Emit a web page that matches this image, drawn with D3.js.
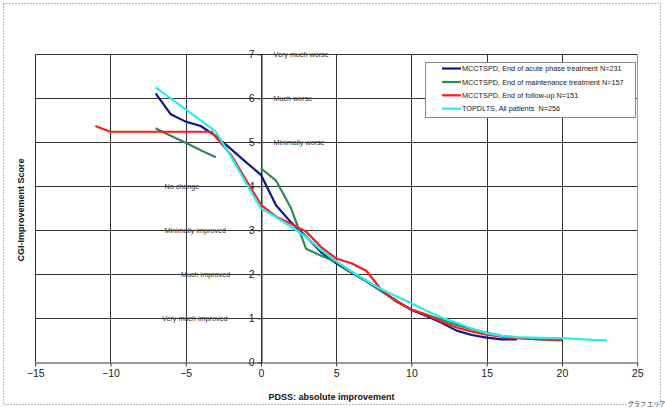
<!DOCTYPE html>
<html><head><meta charset="utf-8">
<script src="https://cdn.jsdelivr.net/npm/d3@7"></script>
<style>
body{margin:0;background:#fff;}
svg{display:block;font-family:"Liberation Sans",Arial,sans-serif;}
</style></head>
<body><svg id="c" width="665" height="412"></svg>
<script>
// ---- data ----
const xTicks = [-15,-10,-5,0,5,10,15,20,25];
const yTicks = [0,1,2,3,4,5,6,7];
const ratingLabels = ["Very much improved","Much improved","Minimally improved","No change","Minimally worse","Much worse","Very much worse"];
const ratingValues = [1,2,3,4,5,6,7];
const seriesNames = [
  "MCCTSPD, End of acute phase treatment N=231",
  "MCCTSPD, End of maintenance treatment N=157",
  "MCCTSPD, End of follow-up N=151",
  "TOPDLTS, All patients  N=256"
];
const seriesColors = ["#14148a","#2e8b57","#ff1a1a","#22f0f0"];

const acuteX = [-7,-6,-5,-4,-3,-2,-1,0,1,2,3,4,5,6,7,8,9,10,11,12,13,14,15,16,17];
const acuteY = [6.11,5.64,5.47,5.37,5.14,4.85,4.55,4.26,3.57,3.18,2.86,2.5,2.25,2.04,1.84,1.62,1.4,1.19,1.05,0.9,0.72,0.62,0.56,0.52,0.52];

const maintX = [-7,-6,-5,-4,-3,-2,-1,0,1,2,3,4,5,6,7,8,9,10,11,12,13,14,15,16,17,18,19,20];
const maintY = [5.32,5.15,4.99,4.82,4.66,null,null,4.41,4.13,3.5,2.58,2.42,2.28,2.05,1.85,1.62,1.38,1.2,1.08,0.97,0.85,0.75,0.67,0.6,0.56,0.53,0.51,0.5];

const followX = [-11,-10,-3.3,-2,-1,0,1,2,3,4,5,6,7,8,9,10,11,12,13,14,15,16,17,18,19,20];
const followY = [5.37,5.24,5.24,4.72,4.15,3.58,3.31,3.15,2.97,2.62,2.36,2.25,2.08,1.65,1.38,1.2,1.08,0.92,0.79,0.7,0.63,0.58,0.55,0.53,0.52,0.51];

const topX = [-7,-6,-5,-4,-3,-2,-1,0,1,2,3,4,5,6,7,8,9,10,11,12,13,14,15,16,17,18,19,20,21,22,23];
const topY = [6.25,6.0,5.75,5.5,5.24,4.68,4.08,3.5,3.3,3.08,2.85,2.55,2.3,2.07,1.86,1.66,1.5,1.34,1.17,1.02,0.9,0.77,0.66,0.6,0.57,0.56,0.55,0.55,0.53,0.51,0.5];

// ---- drawing ----
const svg = d3.select("#c");
const x = d3.scaleLinear().domain([-15,25]).range([35.2,637.2]);
const y = d3.scaleLinear().domain([0,7]).range([362.3,54.3]);

// chart area dotted border
svg.append("rect").attr("x",3.5).attr("y",3.5).attr("width",657).attr("height",401)
  .attr("fill","none").attr("stroke","#777").attr("stroke-width",1).attr("stroke-dasharray","1,2");

// grid
const g = svg.append("g");
g.selectAll("line.h").data(yTicks.filter(d=>d>0)).join("line")
  .attr("x1",x(-15)).attr("x2",x(25)).attr("y1",d=>Math.round(y(d))+0.5).attr("y2",d=>Math.round(y(d))+0.5)
  .attr("stroke","#333").attr("stroke-width",1);
g.selectAll("line.v").data(xTicks).join("line")
  .attr("y1",y(7)).attr("y2",y(0)).attr("x1",d=>Math.round(x(d))+0.5).attr("x2",d=>Math.round(x(d))+0.5)
  .attr("stroke",d=>d===25?"#999":"#333").attr("stroke-width",1);

// x axis
const xa = svg.append("g").attr("transform",`translate(0,${Math.round(y(0))+0.5})`)
  .call(d3.axisBottom(x).tickValues(xTicks).tickFormat(d3.format("d")).tickSize(4).tickPadding(3).tickSizeOuter(0));
xa.select(".domain").attr("stroke","#333");
xa.selectAll(".tick line").attr("stroke","#333");
xa.selectAll("text").attr("font-size","10.5px").attr("fill","#222").attr("font-family","Liberation Sans, Arial, sans-serif");

// y axis
const ya = svg.append("g").attr("transform",`translate(${Math.round(x(0))+0.5},0)`)
  .call(d3.axisLeft(y).tickValues(yTicks).tickFormat(d3.format("d")).tickSize(4).tickPadding(3).tickSizeOuter(0));
ya.select(".domain").attr("stroke","#333");
ya.selectAll(".tick line").attr("stroke","#333");
ya.selectAll("text").attr("font-size","10.5px").attr("fill","#222").attr("font-family","Liberation Sans, Arial, sans-serif");

// rating labels
const rl = svg.append("g").attr("font-size","7.2px").attr("fill","#333");
ratingValues.forEach((v,i)=>{
  let xpos;
  if (v>=5) xpos = 273.5;
  else if (v===4 || v===3) xpos = 164.5;
  else if (v===2) xpos = 181;
  else xpos = 162;
  rl.append("text").attr("x",xpos).attr("y",y(v)).attr("dy","0.35em").text(ratingLabels[i]);
});

// lines
const series = [[acuteX,acuteY],[maintX,maintY],[followX,followY],[topX,topY]];
const line = d3.line().defined(d=>d[1]!=null).x(d=>x(d[0])).y(d=>y(d[1]));
series.forEach((s,i)=>{
  const pts = s[0].map((v,j)=>[v,s[1][j]]);
  svg.append("path").datum(pts).attr("d",line).attr("fill","none")
    .attr("stroke",seriesColors[i]).attr("stroke-width",2.2).attr("stroke-linejoin","round");
});

// legend
const lg = svg.append("g");
lg.append("rect").attr("x",425.5).attr("y",62.5).attr("width",210).attr("height",55)
  .attr("fill","#fff").attr("stroke","#888").attr("stroke-width",1);
const rows = [68.5,82,95.3,108.7];
seriesNames.forEach((n,i)=>{
  lg.append("line").attr("x1",442).attr("x2",461).attr("y1",rows[i]).attr("y2",rows[i])
    .attr("stroke",seriesColors[i]).attr("stroke-width",2.2);
  lg.append("text").attr("x",462).attr("y",rows[i]).attr("dy","0.35em")
    .attr("font-size","7.3px").attr("fill","#222").style("white-space","pre").text(n);
});

// axis titles
svg.append("text").attr("transform","translate(21,210) rotate(-90)").attr("text-anchor","middle")
  .attr("dy","0.35em").attr("font-size","9px").attr("font-weight","bold").attr("fill","#111").text("CGI-Improvement Score");
svg.append("text").attr("x",331.5).attr("y",397).attr("text-anchor","middle").attr("dy","0.35em")
  .attr("font-size","9px").attr("font-weight","bold").attr("fill","#111").text("PDSS: absolute improvement");

// chart-area tag
svg.append("rect").attr("x",627).attr("y",399).attr("width",31).attr("height",9).attr("fill","#fff");
svg.append("text").attr("x",628).attr("y",404).attr("dy","0.35em").attr("font-size","6px")
  .attr("font-family","Noto Sans CJK JP").attr("fill","#333").text("グラフ エリア");
</script></body></html>
